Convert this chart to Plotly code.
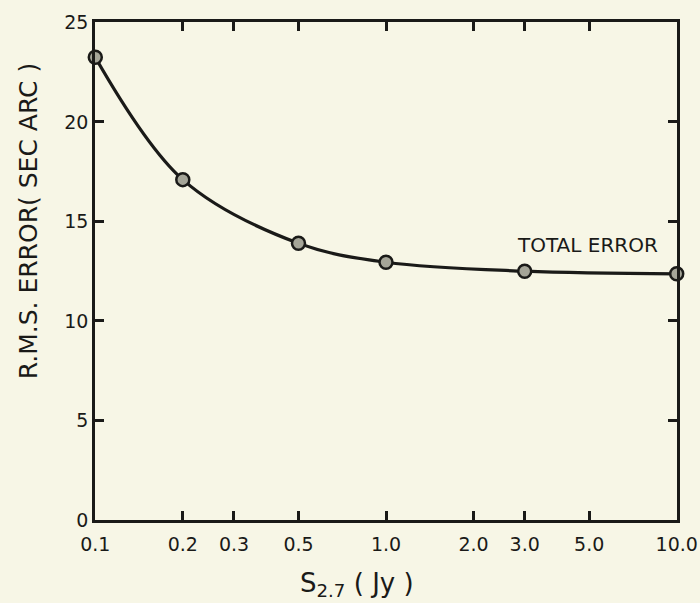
import plotly.graph_objects as go

flux = [0.1, 0.2, 0.5, 1.0, 3.0, 10.0]
rms_error = [23.25, 17.1, 13.9, 12.95, 12.5, 12.37]

x_tickvals = [0.1, 0.2, 0.3, 0.5, 1.0, 2.0, 3.0, 5.0, 10.0]
x_ticktext = ["0.1", "0.2", "0.3", "0.5", "1.0", "2.0", "3.0", "5.0", "10.0"]
y_tickvals = [0, 5, 10, 15, 20, 25]
y_ticktext = ["0", "5", "10", "15", "20", "25"]

ink = "#1a1a18"
paper = "#f7f6e6"
font_family = "DejaVu Sans"

fig = go.Figure()
fig.add_trace(go.Scatter(
    x=flux, y=rms_error, mode="lines+markers",
    line=dict(color=ink, width=3.2, shape="spline", smoothing=1.0),
    marker=dict(symbol="circle", size=13, color="#a5a598",
                line=dict(color=ink, width=2.5)),
    showlegend=False, cliponaxis=False,
))

axis_common = dict(
    showline=True, linecolor=ink, linewidth=2.5, mirror="ticks",
    ticks="inside", ticklen=9, tickwidth=2.5, tickcolor=ink,
    showgrid=False, zeroline=False,
    tickfont=dict(family=font_family, size=19, color=ink),
)

fig.update_layout(
    width=700, height=603,
    margin=dict(l=95, r=23, t=22, b=83),
    paper_bgcolor=paper, plot_bgcolor=paper,
    xaxis=dict(type="log", range=[-1.001, 1.001], tickmode="array",
               tickvals=x_tickvals, ticktext=x_ticktext, ticklabelstandoff=5,
               ticklabeloverflow="allow", automargin=False,
               **axis_common),
    yaxis=dict(range=[0, 25.02], tickmode="array",
               tickvals=y_tickvals, ticktext=y_ticktext, automargin=False,
               **axis_common),
    annotations=[
        dict(text="TOTAL ERROR", x=0.97, y=0.553, xref="paper", yref="paper",
             xanchor="right", yanchor="middle", showarrow=False,
             font=dict(family=font_family, size=20, color=ink)),
        dict(text="R.M.S. ERROR( SEC ARC )", x=-0.115, y=0.6, xref="paper", yref="paper",
             xanchor="center", yanchor="middle", textangle=-90, showarrow=False,
             font=dict(family=font_family, size=25, color=ink)),
        dict(text="S<sub>2.7</sub> ( Jy )", x=0.45, y=-0.13, xref="paper", yref="paper",
             xanchor="center", yanchor="middle", showarrow=False,
             font=dict(family=font_family, size=26, color=ink)),
    ],
)

fig.write_html(
    "out.html",
    config={"displayModeBar": False},
    post_script="document.body.style.margin='0';document.body.style.background='%s';" % paper,
)
